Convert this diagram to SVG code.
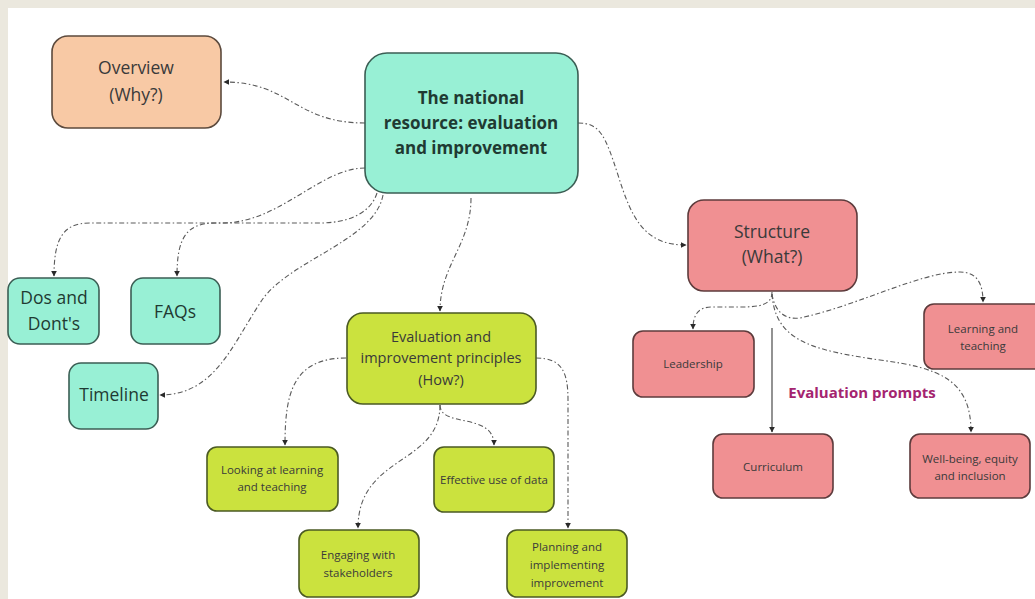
<svg xmlns="http://www.w3.org/2000/svg" width="1035" height="599" viewBox="0 0 1035 599">
<defs>
<style>
.n rect{stroke-width:1.6}
.mint rect{fill:#98f0d5;stroke:#3b5e54}
.peach rect{fill:#f8c9a5;stroke:#5c4a3d}
.pink rect{fill:#f09092;stroke:#5d3b3c}
.lime rect{fill:#cbe23e;stroke:#4b5a23}
text{font-family:"Open Sans","Liberation Sans",sans-serif;text-anchor:middle;fill:#3a3a3a}
.mint text{fill:#1f3a32}
.big{font-size:17.5px}
.mid{font-size:14.5px}
.sm{font-size:11.5px}
.c path{fill:none;stroke:#5a5a5a;stroke-width:1.1;stroke-dasharray:5 2.5 1.5 2.5;marker-end:url(#ah)}
.c path.solid{stroke:#3a3a3a;stroke-dasharray:none}
</style>
<marker id="ah" viewBox="0 0 10 10" refX="9" refY="5" markerWidth="6" markerHeight="6" markerUnits="userSpaceOnUse" orient="auto">
<path d="M0,0 L10,5 L0,10 z" fill="#2a2a2a"/>
</marker>
</defs>
<rect x="0" y="0" width="1035" height="599" fill="#ebe8de"/>
<rect x="8" y="8" width="1027" height="591" fill="#ffffff"/>

<g id="connectors" class="c">
<path d="M365,123 C295,123 290,82 224,82"/>
<path d="M578,123 C600,123 605,135 618,175 C632,220 645,245 686,245"/>
<path d="M365,168 C320,168 280,223 222,223 L90,223 C62,223 54,240 54,276"/>
<path d="M377,193 C370,215 345,223 320,223 L215,223 C185,223 177,240 177,276"/>
<path d="M383,195 C375,240 290,260 262,300 C232,345 215,395 160,395"/>
<path d="M471,198 C471,245 440,265 440,311"/>
<path d="M346,358 C292,358 285,395 285,445"/>
<path d="M440,405 C440,428 494,412 494,445"/>
<path d="M440,405 C440,465 358,455 358,528"/>
<path d="M536,358 C562,358 568,372 568,400 L568,528"/>
<path d="M772,292 C772,305 760,307 740,307 L712,307 C698,307 693,315 693,329"/>
<path class="solid" d="M772,328 L772,432"/>
<path d="M772,294 C775,312 785,320 800,318 C860,305 920,272 960,272 C978,272 983,285 983,302"/>
<path d="M772,294 C775,340 810,350 880,360 C940,368 971,380 971,432"/>
</g>

<g id="central" class="n mint">
<rect x="365" y="53" width="213" height="140" rx="22"/>
<text x="471" y="104" style="font-size:17px;font-weight:bold">The national</text>
<text x="471" y="129" style="font-size:17px;font-weight:bold">resource: evaluation</text>
<text x="471" y="154" style="font-size:17px;font-weight:bold">and improvement</text>
</g>
<g id="overview" class="n peach">
<rect x="52" y="36" width="169" height="92" rx="16"/>
<text class="big" x="136" y="74">Overview</text>
<text class="big" x="136" y="101">(Why?)</text>
</g>
<g id="dos" class="n mint">
<rect x="8" y="278" width="91" height="66" rx="12"/>
<text class="big" x="54" y="304">Dos and</text>
<text class="big" x="54" y="330">Dont's</text>
</g>
<g id="faqs" class="n mint">
<rect x="131" y="278" width="89" height="66" rx="12"/>
<text class="big" x="175" y="318">FAQs</text>
</g>
<g id="timeline" class="n mint">
<rect x="69" y="363" width="89" height="66" rx="12"/>
<text class="big" x="114" y="401">Timeline</text>
</g>
<g id="principles" class="n lime">
<rect x="347" y="313" width="189" height="91" rx="16"/>
<text class="mid" x="441" y="342">Evaluation and</text>
<text class="mid" x="441" y="363">improvement principles</text>
<text class="mid" x="441" y="385">(How?)</text>
</g>
<g id="looking" class="n lime">
<rect x="207" y="447" width="131" height="64" rx="10"/>
<text class="sm" x="272" y="474">Looking at learning</text>
<text class="sm" x="272" y="491">and teaching</text>
</g>
<g id="data" class="n lime">
<rect x="434" y="447" width="120" height="65" rx="10"/>
<text class="sm" x="494" y="484">Effective use of data</text>
</g>
<g id="engaging" class="n lime">
<rect x="299" y="530" width="120" height="67" rx="10"/>
<text class="sm" x="358" y="559">Engaging with</text>
<text class="sm" x="358" y="577">stakeholders</text>
</g>
<g id="planning" class="n lime">
<rect x="507" y="530" width="120" height="67" rx="10"/>
<text class="sm" x="567" y="551">Planning and</text>
<text class="sm" x="567" y="569">implementing</text>
<text class="sm" x="567" y="587">improvement</text>
</g>
<g id="structure" class="n pink">
<rect x="688" y="200" width="169" height="91" rx="16"/>
<text class="big" x="772" y="238">Structure</text>
<text class="big" x="772" y="263">(What?)</text>
</g>
<g id="leadership" class="n pink">
<rect x="633" y="331" width="121" height="66" rx="10"/>
<text class="sm" x="693" y="368">Leadership</text>
</g>
<g id="learning" class="n pink">
<rect x="924" y="304" width="120" height="65" rx="10"/>
<text class="sm" x="983" y="333">Learning and</text>
<text class="sm" x="983" y="350">teaching</text>
</g>
<g id="curriculum" class="n pink">
<rect x="713" y="434" width="120" height="64" rx="10"/>
<text class="sm" x="773" y="471">Curriculum</text>
</g>
<g id="wellbeing" class="n pink">
<rect x="910" y="434" width="120" height="64" rx="10"/>
<text class="sm" x="970" y="463">Well-being, equity</text>
<text class="sm" x="970" y="480">and inclusion</text>
</g>
<text x="862" y="398" style="font-size:15px;font-weight:bold;fill:#a4246f">Evaluation prompts</text>
</svg>
